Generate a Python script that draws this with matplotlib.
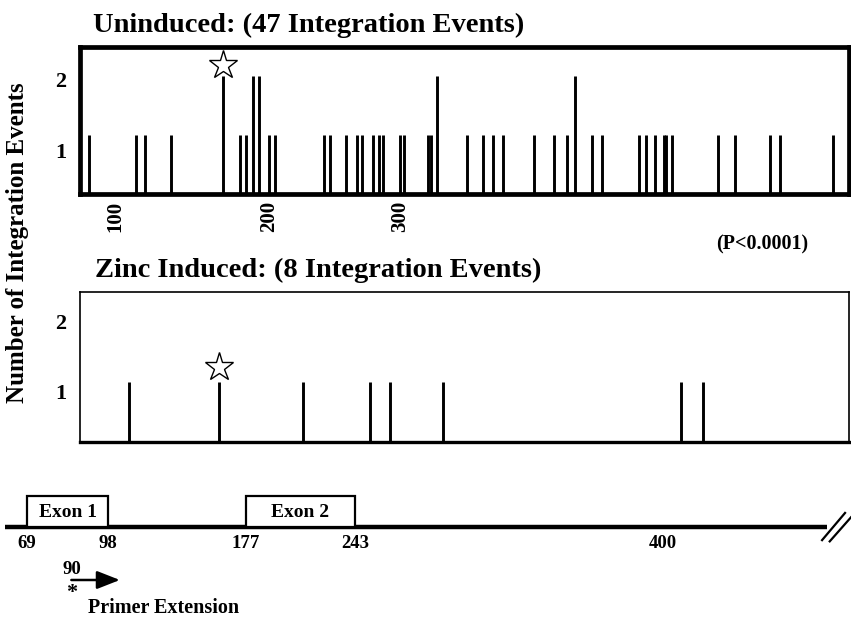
import numpy as np
import matplotlib
matplotlib.use("Agg")
import matplotlib.pyplot as plt
from matplotlib.patches import Rectangle

plt.rcParams["font.family"] = ["Liberation Serif", "DejaVu Serif"]
plt.rcParams["font.weight"] = "bold"

# integration sites (approx. nucleotide position) and number of events
uninduced_pos = [82, 115, 121, 139, 176, 188, 192, 197, 201, 208, 212, 247, 251,
                 262, 270, 273, 281, 285, 288, 300, 303, 320, 322, 326, 347, 358,
                 365, 372, 394, 408, 417, 423, 435, 442, 468, 473, 479, 485, 487,
                 491, 523, 535, 560, 567, 604]
uninduced_cnt = [1, 1, 1, 1, 2, 1, 1, 2, 2, 1, 1, 1, 1,
                 1, 1, 1, 1, 1, 1, 1, 1, 1, 1, 2, 1, 1,
                 1, 1, 1, 1, 1, 2, 1, 1, 1, 1, 1, 1, 1,
                 1, 1, 1, 1, 1, 1]
zinc_pos = [110, 173, 232, 279, 293, 330, 497, 513]
zinc_cnt = [1, 1, 1, 1, 1, 1, 1, 1]

star_uninduced = 176
star_zinc = 173

xtick_vals = [100, 208, 300]
xtick_labels = ["100", "200", "300"]
ytick_labels = ["1", "2"]

# gene map (schematic)
map_labels = [69, 98, 177, 243, 400]
exon_names = ["Exon 1", "Exon 2"]
exon_start = [69, 177]
exon_end = [98, 243]
primer_site = 90

fig = plt.figure(figsize=(8.51, 6.18), dpi=100)

# schematic map axes in figure fraction
axm = fig.add_axes([0, 0, 1, 1])
axm.set_xlim(0, 1)
axm.set_ylim(0, 1)
axm.axis("off")
map_xfrac = [0.0314, 0.1273, 0.2891, 0.4172, 0.7791]


def mpos(nt):
    return np.interp(nt, map_labels, map_xfrac)


line_y = 0.1477
box_top = 0.1979
axm.plot([0.006, 0.972], [line_y, line_y], color="black", lw=3.2,
         solid_capstyle="butt")
for name, s, e in zip(exon_names, exon_start, exon_end):
    x0, x1 = mpos(s), mpos(e)
    axm.add_patch(Rectangle((x0, line_y), x1 - x0, box_top - line_y,
                            facecolor="white", edgecolor="black", lw=1.6,
                            zorder=3))
    axm.text((x0 + x1) / 2, 0.171, name, ha="center", va="center",
             fontsize=14, fontweight="bold", zorder=4)
for v in map_labels:
    axm.text(mpos(v), 0.121, str(v), ha="center", va="center",
             fontsize=13.5, fontweight="bold")
# break marks
axm.plot([0.966, 0.993], [0.126, 0.170], color="black", lw=1.6)
axm.plot([0.975, 1.0], [0.124, 0.163], color="black", lw=1.6)

# primer extension arrow
px = mpos(primer_site) - 0.017
axm.annotate("", xy=(px + 0.057, 0.0615), xytext=(px, 0.0615),
             arrowprops=dict(arrowstyle="-|>,head_length=1.4,head_width=0.55",
                             color="black", lw=1.8, shrinkA=0, shrinkB=0))
axm.text(px + 0.0012, 0.0790, str(primer_site), ha="center", va="center",
         fontsize=13.5, fontweight="bold")
axm.text(px, 0.040, "*", ha="center", va="center", fontsize=16,
         fontweight="bold")
axm.text(0.1034, 0.0162, "Primer Extension", ha="left", va="center",
         fontsize=14.5, fontweight="bold")

xlim = (75.4, 615.1)

# top panel
ax1 = fig.add_axes([0.094, 0.6856, 0.9036, 0.2388])
ax1.vlines(uninduced_pos, 0, uninduced_cnt, color="black", lw=2.1)
ax1.plot([star_uninduced], [2.18], marker="*", markersize=21,
         markerfacecolor="white", markeredgecolor="black",
         markeredgewidth=1.0, linestyle="none")
ax1.set_xlim(*xlim)
ax1.set_ylim(0, 2.49)
ax1.set_yticks([0.74, 1.94])
ax1.set_yticklabels(ytick_labels)
ax1.set_xticks(xtick_vals)
ax1.set_xticklabels(xtick_labels, rotation=90)
for sp in ax1.spines.values():
    sp.set_linewidth(3.4)
ax1.tick_params(length=0, labelsize=16, pad=10)
ax1.tick_params(axis="x", labelsize=15, pad=5)

# bottom panel
ax2 = fig.add_axes([0.094, 0.2853, 0.9036, 0.2427])
ax2.vlines(zinc_pos, 0, zinc_cnt, color="black", lw=2.1)
ax2.plot([star_zinc], [1.25], marker="*", markersize=21,
         markerfacecolor="white", markeredgecolor="black",
         markeredgewidth=1.0, linestyle="none")
ax2.set_xlim(*xlim)
ax2.set_ylim(0, 2.5)
ax2.set_yticks([0.83, 2.0])
ax2.set_yticklabels(ytick_labels)
ax2.set_xticks([])
for sp in ax2.spines.values():
    sp.set_linewidth(1.2)
ax2.spines["bottom"].set_linewidth(2.4)
ax2.tick_params(length=0, labelsize=16, pad=10)

for t in ax1.get_xticklabels() + ax1.get_yticklabels() + ax2.get_yticklabels():
    t.set_fontweight("bold")

fig.text(0.109, 0.948, "Uninduced: (47 Integration Events)", ha="left",
         va="baseline", fontsize=20.5, fontweight="bold")
fig.text(0.1117, 0.5523, "Zinc Induced: (8 Integration Events)", ha="left",
         va="baseline", fontsize=20.5, fontweight="bold")
fig.text(0.842, 0.5955, "(P<0.0001)", ha="left", va="baseline",
         fontsize=14.5, fontweight="bold")
fig.text(0.021, 0.607, "Number of Integration Events", rotation=90,
         ha="center", va="center", fontsize=18, fontweight="bold")

fig.savefig("out.png", dpi=100)
